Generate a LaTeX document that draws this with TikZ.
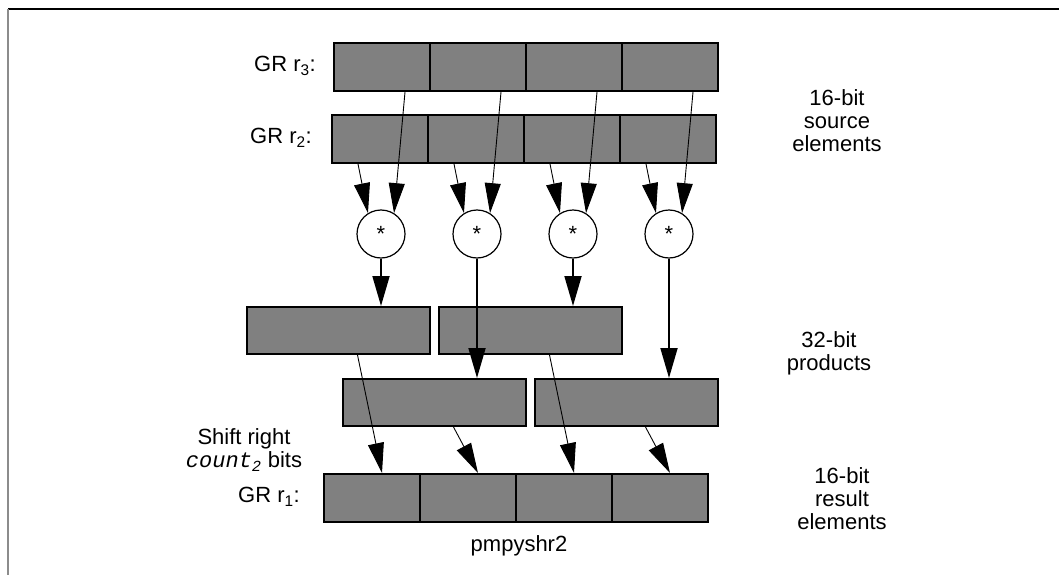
\documentclass[tikz,border=0pt]{standalone}
\usepackage{fontspec}
\setmainfont{Liberation Sans}
\newfontfamily\monoit{Liberation Mono}
\usetikzlibrary{arrows.meta,calc}
\definecolor{boxgray}{HTML}{808080}
\definecolor{framegray}{HTML}{8C8C8C}
\begin{document}
\begin{tikzpicture}[x=1pt,y=-1pt,
  lbl/.style={font=\fontsize{22}{23}\selectfont, inner sep=0pt},
  cell/.style={draw=black, fill=boxgray, line width=2pt, minimum width=96pt, minimum height=48pt, inner sep=0pt, anchor=north west},
  prod/.style={cell, minimum width=183pt, minimum height=47pt},
  mul/.style={circle, draw=black, fill=white, line width=1.2pt, minimum size=48pt, inner sep=0pt, font=\fontsize{22}{23}\selectfont},
  thinarr/.style={-{Triangle[length=30pt,width=16pt]}, line width=0.9pt},
  thickarr/.style={-{Triangle[length=30pt,width=17pt]}, line width=1.8pt}]
\useasboundingbox (0,0) rectangle (1059,575);
% frame
\draw[line width=1.5pt] (8,9) -- (1059,9);
\draw[framegray, line width=1.8pt] (8,9) -- (8,575);
% registers
\foreach \i/\n in {0/a,1/b,2/c,3/d}{
  \node[cell] (r3\n) at ({333+96*\i},42) {};
  \node[cell] (r2\n) at ({331+96*\i},114) {};
  \node[cell] (r1\n) at ({323+96*\i},473) {};
}
% products
\node[prod] (pA) at (246,306) {};
\node[prod] (pB) at (438,306) {};
\node[prod] (pC) at (342,378) {};
\node[prod] (pD) at (534,378) {};
% multipliers
\foreach \i/\n in {0/a,1/b,2/c,3/d}{
  \node[mul] (m\n) at ({381+96*\i},234) {*};
}
% source arrows
\foreach \n in {a,b,c,d}{
  \draw[thinarr] ($(r3\n.south)+(23,0)$) -- (m\n.58);
  \draw[thinarr] ($(r2\n.south)+(-22,0)$) -- (m\n.122);
}
% products arrows
\draw[thickarr] (ma.south) -- (ma.south |- pA.north);
\draw[thickarr] (mb.south) -- (mb.south |- pC.north);
\draw[thickarr] (mc.south) -- (mc.south |- pB.north);
\draw[thickarr] (md.south) -- (md.south |- pD.north);
% shift arrows
\draw[thinarr] ($(pA.south)+(19,0)$) -- ($(r1a.north)+(10,0)$);
\draw[thinarr] ($(pC.south)+(19,0)$) -- ($(r1b.north)+(10,0)$);
\draw[thinarr] ($(pB.south)+(19,0)$) -- ($(r1c.north)+(10,0)$);
\draw[thinarr] ($(pD.south)+(19,0)$) -- ($(r1d.north)+(10,0)$);
% labels
\node[lbl, anchor=east] (l3) at (316,66) {GR r\textsubscript{3}:};
\node[lbl, anchor=east] (l2) at (312,138) {GR r\textsubscript{2}:};
\node[lbl, anchor=east] (l1) at (300,497) {GR r\textsubscript{1}:};
\node[lbl, align=center] (src) at (837,121) {16-bit\\source\\elements};
\node[lbl, align=center] (prd) at (829,353) {32-bit\\products};
\node[lbl, align=center] (res) at (842,499) {16-bit\\result\\elements};
\node[lbl, align=center] (sh) at (244,450) {Shift right\\{\monoit\itshape count\textsubscript{2}} bits};
\node[lbl] (nm) at (519,546) {pmpyshr2};
\end{tikzpicture}
\end{document}
